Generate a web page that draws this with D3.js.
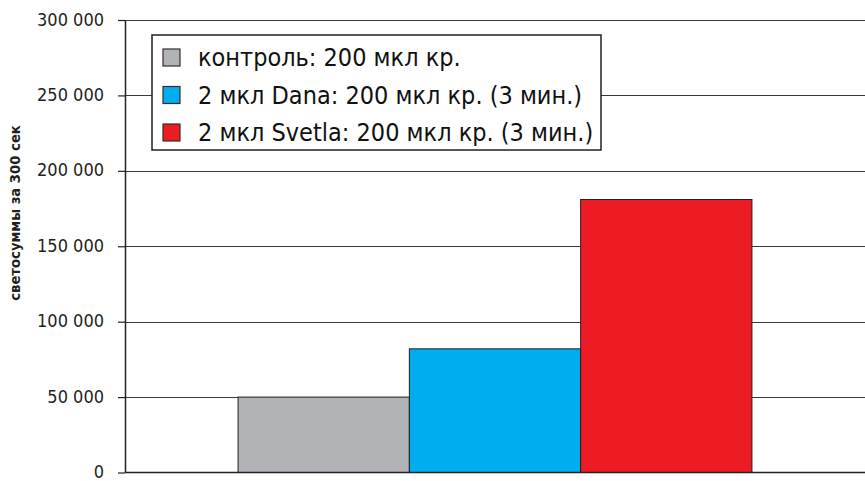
<!DOCTYPE html>
<html>
<head>
<meta charset="utf-8">
<script src="https://cdn.jsdelivr.net/npm/d3@7"></script>
<style>
	body { margin: 0; background: #fff; }
	svg { display: block; }
</style>
</head>
<body>
<div id="chart"></div>
<script>
// данные
const series = ['контроль: 200 мкл кр.', '2 мкл Dana: 200 мкл кр. (3 мин.)', '2 мкл Svetla: 200 мкл кр. (3 мин.)'];
const values = [50000, 82000, 181000];
const colors = ['#b1b3b6', '#00aeef', '#ed1c24'];
const yTicks = [0, 50000, 100000, 150000, 200000, 250000, 300000];
const yTitle = 'светосуммы за 300 сек';

const width = 865;
const height = 481;
const margin = ({ top: 20, right: 0, bottom: 8.5, left: 125 })
const font = 'DejaVu Sans Condensed, DejaVu Sans';

const svg = d3.select('#chart')
	.append('svg')
	.attr('width', width)
	.attr('height', height)
	.attr('viewBox', [0, 0, width, height]);

const x = d3.scaleBand()
	.domain(series)
	.range([margin.left, width - margin.right])
	.paddingInner(0)
	.paddingOuter(0.66)

const y = d3.scaleLinear()
	.domain([0, 300000])
	.range([height - margin.bottom, margin.top])

const fmt = d => d3.format(',')(d).replace(/,/g, ' ')

// сетка
svg.append('g')
	.selectAll('line')
	.data(yTicks.filter(d => d > 0))
	.join('line')
	.attr('x1', margin.left)
	.attr('x2', width)
	.attr('y1', d => Math.round(y(d)) + 0.5)
	.attr('y2', d => Math.round(y(d)) + 0.5)
	.attr('stroke', '#3a3a3a')
	.attr('stroke-width', 1.2);

// столбцы
svg.append('g')
	.selectAll('rect')
	.data(values)
	.join('rect')
	.attr('x', (d, i) => x(series[i]))
	.attr('y', d => y(d))
	.attr('width', x.bandwidth())
	.attr('height', d => y(0) - y(d))
	.attr('fill', (d, i) => colors[i])
	.attr('stroke', '#231f20')
	.attr('stroke-width', 1);

// ось Y
const yAxis = g => g
	.attr('transform', `translate(${margin.left},0)`)
	.call(d3.axisLeft(y).tickValues(yTicks).tickFormat(fmt).tickSize(7).tickPadding(14).tickSizeOuter(0))
	.call(g => g.selectAll('.tick line').attr('stroke', '#222').attr('stroke-width', 1.2))
	.call(g => g.select('.domain').attr('stroke', '#222').attr('stroke-width', 1.5))
	.call(g => g.selectAll('.tick text')
		.attr('font-family', font)
		.attr('font-size', 18)
		.attr('dy', '0.28em')
		.attr('fill', '#231f20'))

svg.append('g').call(yAxis);

// ось X
svg.append('line')
	.attr('x1', margin.left)
	.attr('x2', width)
	.attr('y1', y(0))
	.attr('y2', y(0))
	.attr('stroke', '#222')
	.attr('stroke-width', 1.5);

svg.append('text')
	.attr('transform', `translate(20,${213}) rotate(-90)`)
	.attr('text-anchor', 'middle')
	.attr('font-family', font)
	.attr('font-weight', 'bold')
	.attr('font-size', 14.7)
	.attr('fill', '#231f20')
	.text(yTitle);

// легенда
const legend = svg.append('g').attr('transform', 'translate(152,35)');
legend.append('rect')
	.attr('width', 449)
	.attr('height', 115)
	.attr('fill', '#fff')
	.attr('stroke', '#231f20')
	.attr('stroke-width', 1.5);

const item = legend.selectAll('g.item')
	.data(series)
	.join('g')
	.attr('class', 'item')
	.attr('transform', (d, i) => `translate(11,${22 + i * 37.5})`);

item.append('rect')
	.attr('x', 0)
	.attr('y', -8)
	.attr('width', 17)
	.attr('height', 17)
	.attr('fill', (d, i) => colors[i])
	.attr('stroke', '#3b2a2a')
	.attr('stroke-width', 1.2);

item.append('text')
	.attr('x', 35)
	.attr('y', 0)
	.attr('dy', '0.36em')
	.attr('font-family', font)
	.attr('font-size', 25)
	.attr('fill', '#111')
	.text(d => d);
</script>
</body>
</html>
